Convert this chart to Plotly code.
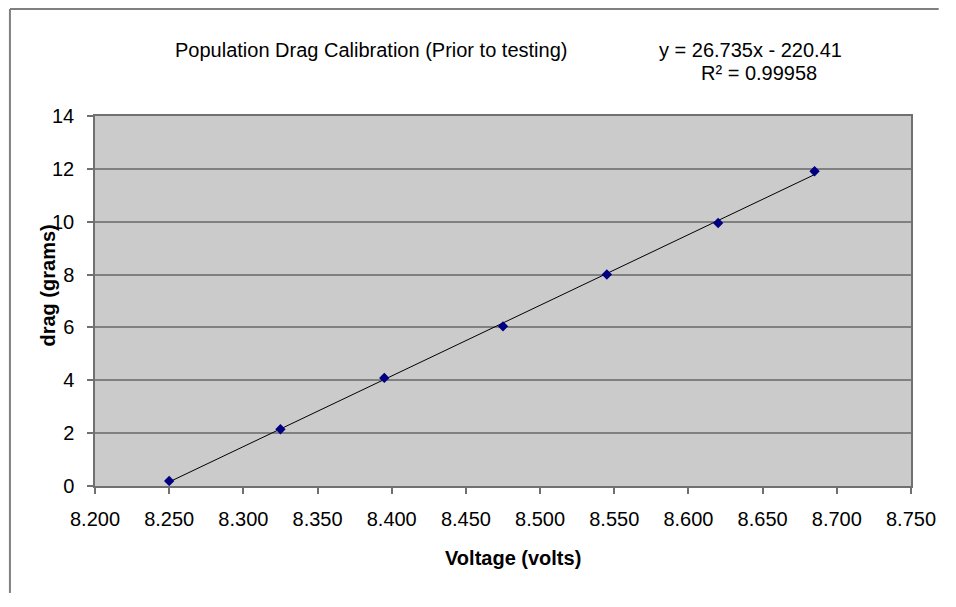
import numpy as np
import plotly.graph_objects as go

# Data
voltage = [8.250, 8.325, 8.395, 8.475, 8.545, 8.620, 8.685]
drag = [0.19, 2.15, 4.09, 6.04, 8.00, 9.95, 11.91]

# Trendline as printed on the chart
slope = 26.735
intercept = -220.41
r_squared = 0.99958

x_ticks = [8.20, 8.25, 8.30, 8.35, 8.40, 8.45, 8.50, 8.55, 8.60, 8.65, 8.70, 8.75]
x_tick_labels = ["8.200", "8.250", "8.300", "8.350", "8.400", "8.450",
                 "8.500", "8.550", "8.600", "8.650", "8.700", "8.750"]
y_ticks = [0, 2, 4, 6, 8, 10, 12, 14]

title_text = "Population Drag Calibration (Prior to testing)"
eq_text = "y = 26.735x - 220.41"
r2_text = "R\u00b2 = 0.99958"

# page has an 8px body margin on every side, so the figure sits at (8, 8);
# keep the figure small enough that the page never scrolls
OFF = 8
W, H = 956 - 2 * OFF, 607 - 2 * OFF - 6
PLOT_L, PLOT_R, PLOT_T, PLOT_B = 95, 920, 116, 486   # page pixels
L, R = PLOT_L - OFF, W - (PLOT_R - OFF)
T, B = PLOT_T - OFF, H - (PLOT_B - OFF)
pw, ph = W - L - R, H - T - B

trend_x = np.array([min(voltage), max(voltage)])
trend_y = slope * trend_x + intercept

FONT = "Liberation Sans, Arial, sans-serif"

fig = go.Figure()
fig.add_trace(go.Scatter(x=trend_x, y=trend_y, mode="lines",
                         line=dict(color="#000000", width=1), hoverinfo="skip",
                         showlegend=False))
fig.add_trace(go.Scatter(x=voltage, y=drag, mode="markers",
                         marker=dict(symbol="diamond", size=8, color="#000080"),
                         showlegend=False))

fig.update_layout(
    width=W, height=H,
    margin=dict(l=L, r=R, t=T, b=B, pad=0),
    paper_bgcolor="white",
    plot_bgcolor="#CBCBCB",
    font=dict(family=FONT, size=20, color="#000000"),
    showlegend=False,
)

fig.update_xaxes(range=[8.2, 8.75], tickvals=x_ticks, ticktext=x_tick_labels,
                 showgrid=False, zeroline=False,
                 showline=True, linecolor="#707070", linewidth=1.5, mirror=True,
                 ticks="outside", ticklen=6, tickcolor="#707070", tickwidth=1.5,
                 ticklabelstandoff=8,
                 tickfont=dict(size=20, family=FONT))
fig.update_yaxes(range=[0, 14], tickvals=y_ticks,
                 showgrid=True, gridcolor="#808080", gridwidth=1.5, zeroline=False,
                 showline=True, linecolor="#707070", linewidth=1.5, mirror=True,
                 ticks="outside", ticklen=6, tickcolor="#707070", tickwidth=1.5,
                 ticklabelstandoff=9,
                 tickfont=dict(size=20, family=FONT))

def px_x(p):
    # p in page pixels
    return (p - OFF - L) / pw

def px_y(p):
    return (H - B - (p - OFF)) / ph

annotations = [
    dict(text=title_text, x=px_x(374), y=px_y(50), font=dict(size=20)),
    dict(text=eq_text, x=px_x(758), y=px_y(50), font=dict(size=20)),
    dict(text=r2_text, x=px_x(766), y=px_y(73), font=dict(size=20)),
    dict(text="<b>Voltage (volts)</b>", x=px_x(518), y=px_y(558), font=dict(size=20)),
    dict(text="<b>drag (grams)</b>", x=px_x(47), y=px_y(286), textangle=-90,
         font=dict(size=20)),
]
for a in annotations:
    a.update(xref="paper", yref="paper", showarrow=False,
             xanchor="center", yanchor="middle")
fig.update_layout(annotations=annotations)

# Outer chart-area frame (top and left edges), kept inside the figure
frame = dict(type="line", xref="paper", yref="paper",
             line=dict(color="#808080", width=2), layer="above")
fig_right = px_x(OFF + W)
fig_bottom = px_y(OFF + H)
fig.add_shape(x0=px_x(9), x1=fig_right, y0=px_y(9), y1=px_y(9), **frame)
fig.add_shape(x0=px_x(9), x1=px_x(9), y0=px_y(9), y1=fig_bottom, **frame)

fig.write_html("out.html")
